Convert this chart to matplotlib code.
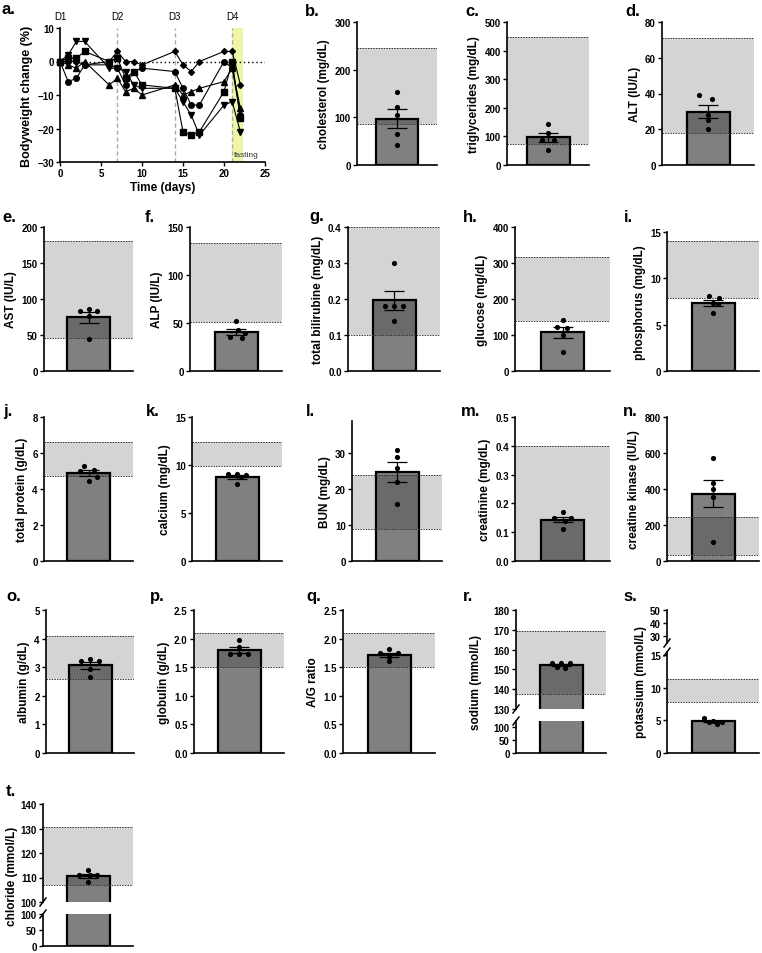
import numpy as np
import matplotlib
matplotlib.use("Agg")
import matplotlib.pyplot as plt

plt.rcParams['font.family'] = ['Liberation Sans', 'DejaVu Sans']

W, H = 762, 954

# bodyweight change (%) per mouse
days = [0, 1, 2, 3, 6, 7, 8, 9, 10, 14, 15, 16, 17, 20, 21, 22]
mouseCircle = [0, -6, -5, -1, -1, -2, -7, -3, -2, -3, -8, -13, -13, 0, -2, -16]
mouseSquare = [0, 1, 1, 3, 0, 1, -5, -3, -7, -8, -21, -22, -21, -9, 0, -17]
mouseUp = [0, -1, -2, 0, -7, -5, -9, -8, -10, -7, -10, -9, -8, -6, -2, -14]
mouseDown = [0, 2, 6, 6, -2, -2, -3, -7, -8, -8, -12, -16, -22, -13, -12, -21]
mouseDiamond = [0, 0, 0, -1, 0, 3, 0, 0, -1, 3, -1, -3, 0, 3, 3, -7]
doseDays = [0, 7, 14, 21]
doseLabels = ['D1', 'D2', 'D3', 'D4']
fastingDays = (21, 22.3)

# blood chemistry, one value per mouse, and reference range
cholesterol = [153, 122, 105, 64, 42]
cholesterolRef = (85, 245)
triglycerides = [143, 112, 88, 86, 52]
triglyceridesRef = (75, 449)
alt = [39, 37, 28, 25, 20]
altRef = (18, 71)
ast = [84, 86, 83, 76, 45]
astRef = (46, 181)
alp = [52, 43, 40, 35, 34]
alpRef = (51, 133)
bilirubine = [0.30, 0.18, 0.18, 0.18, 0.14]
bilirubineRef = (0.1, 0.4)
glucose = [142, 121, 119, 100, 53]
glucoseRef = (138, 318)
phosphorus = [8.1, 7.9, 7.3, 7.2, 6.3]
phosphorusRef = (7.9, 14.0)
protein = [5.3, 5.07, 5.0, 4.65, 4.45]
proteinRef = (4.7, 6.6)
calcium = [9.1, 9.1, 9.0, 8.7, 8.0]
calciumRef = (9.9, 12.4)
bun = [31, 29, 26, 22, 16]
bunRef = (9, 24)
creatinine = [0.17, 0.15, 0.15, 0.14, 0.11]
creatinineRef = (0.0, 0.4)
kinase = [570, 435, 400, 357, 108]
kinaseRef = (35, 245)
albumin = [3.3, 3.22, 3.2, 2.95, 2.65]
albuminRef = (2.6, 4.1)
globulin = [1.98, 1.86, 1.73, 1.73, 1.73]
globulinRef = (1.5, 2.1)
agRatio = [1.82, 1.75, 1.74, 1.67, 1.6]
agRatioRef = (1.5, 2.1)
sodium = [153, 153, 153, 151, 150.5]
sodiumRef = (137.6, 169.2)
potassium = [5.3, 4.9, 4.8, 4.7, 4.5]
potassiumRef = (7.9, 11.4)
chloride = [113, 111, 111, 111, 108]
chlorideRef = (106.8, 130.8)

fig = plt.figure(figsize=(W / 100, H / 100), dpi=100)

TICK = 7
LABEL = 8.5


def box(left, top, width, height):
    return [left / W, 1 - (top + height) / H, width / W, height / H]


def styleAxis(ax, bottom=True):
    ax.spines['top'].set_visible(False)
    ax.spines['right'].set_visible(False)
    ax.spines['left'].set_linewidth(1.2)
    ax.spines['bottom'].set_linewidth(1.2)
    if not bottom:
        ax.spines['bottom'].set_visible(False)
    ax.tick_params(axis='both', length=3, width=1, labelsize=TICK, pad=1.5)
    for lab in ax.get_yticklabels() + ax.get_xticklabels():
        lab.set_fontweight('bold')


def letter(x, y, s):
    fig.text(x / W, 1 - y / H, s, fontsize=12, fontweight='bold', va='center', ha='left')


def drawBar(ax, values, ref, widthPx, offsets, showPoints=True, showRef=True):
    mean = np.mean(values)
    sem = np.std(values, ddof=1) / np.sqrt(len(values))
    ax.bar(0, mean, width=1, color='#808080', edgecolor='black', linewidth=1.6, zorder=1)
    if showRef:
        ax.axhspan(ref[0], ref[1], color='black', alpha=0.17, lw=0, zorder=2)
        for r in ref:
            ax.axhline(r, color='#333333', ls=(0, (1.5, 1.2)), lw=0.7, zorder=2)
    if showPoints:
        ax.errorbar(0, mean, yerr=sem, color='black', capsize=7, lw=0.9, capthick=0.9, zorder=3)
        ax.scatter(offsets, values, s=14, color='black', zorder=4, linewidths=0, clip_on=False)
    half = widthPx / 86
    ax.set_xlim(-half, half)
    ax.set_xticks([])


def breakMark(ax, y, wpx, hpx):
    dx, dy = 3 / wpx, 4 / hpx
    ax.plot([-dx, dx], [y - dy, y + dy], transform=ax.transAxes, color='black', lw=1.1, clip_on=False)


# panel a: bodyweight
ax = fig.add_axes(box(60, 29, 205, 134))
ax.axvspan(fastingDays[0], fastingDays[1], color='#eef5a4', lw=0, zorder=0)
for d in doseDays[1:]:
    ax.axvline(d, color='#aaaaaa', ls=(0, (3, 2)), lw=1, zorder=1)
ax.axhline(0, color='black', ls=(0, (1, 2)), lw=1, zorder=1)
for series, m in [(mouseCircle, 'o'), (mouseSquare, 's'), (mouseUp, '^'),
                  (mouseDown, 'v'), (mouseDiamond, 'D')]:
    ax.plot(days, series, color='black', lw=0.8, marker=m,
            markersize=3 if m == 'D' else 4, zorder=3, clip_on=False)
for d, s in zip(doseDays, doseLabels):
    ax.text(d, 13.6, s, fontsize=7, ha='center', va='center')
ax.text(21.2, -27.8, 'fasting', fontsize=6, color='#333333', va='center')
ax.set_xlim(0, 25)
ax.set_ylim(-30, 10)
ax.set_xticks(range(0, 26, 5))
ax.set_yticks(range(-30, 11, 10))
ax.set_xlabel('Time (days)', fontsize=LABEL, fontweight='bold', labelpad=2)
ax.set_ylabel('Bodyweight change (%)', fontsize=LABEL + 0.5, fontweight='bold', labelpad=3)
styleAxis(ax)
letter(2, 10, 'a.')

# simple bar panels: box, data, range, ylim, ticks, label, letter, letter pos, dot x offsets
panels = [
    ((357, 23, 80, 143), cholesterol, cholesterolRef, (0, 300), np.arange(0, 301, 100), 'cholesterol (mg/dL)', 'b.', (305, 11), [0, 0, 0, 0, 0]),
    ((507, 23, 82, 143), triglycerides, triglyceridesRef, (0, 500), np.arange(0, 501, 100), 'triglycerides (mg/dL)', 'c.', (465, 11), [0, 0, -0.15, 0.15, 0]),
    ((662, 23, 92, 143), alt, altRef, (0, 80), np.arange(0, 81, 20), 'ALT (IU/L)', 'd.', (625, 11), [-0.2, 0.1, 0, 0, 0]),
    ((44, 228, 89, 144), ast, astRef, (0, 200), np.arange(0, 201, 50), 'AST (IU/L)', 'e.', (2, 217), [-0.2, 0, 0.2, 0, 0]),
    ((190, 228, 92, 144), alp, alpRef, (0, 150), np.arange(0, 151, 50), 'ALP (IU/L)', 'f.', (145, 217), [0, 0.05, 0.2, -0.15, 0.15]),
    ((348, 228, 92, 144), bilirubine, bilirubineRef, (0, 0.4), np.arange(0, 0.41, 0.1), 'total bilirubine (mg/dL)', 'g.', (309, 217), [0, -0.2, 0, 0.2, 0]),
    ((515, 228, 95, 144), glucose, glucoseRef, (0, 400), np.arange(0, 401, 100), 'glucose (mg/dL)', 'h.', (463, 217), [0, -0.12, 0.1, 0.02, 0]),
    ((667, 233, 92, 139), phosphorus, phosphorusRef, (0, 15), np.arange(0, 16, 5), 'phosphorus (mg/dL)', 'i.', (624, 217), [-0.1, 0.15, 0, 0.12, 0]),
    ((44, 418, 89, 144), protein, proteinRef, (0, 8), np.arange(0, 9, 2), 'total protein (g/dL)', 'j.', (3, 412), [-0.1, 0.12, -0.2, 0.2, 0]),
    ((192, 418, 90, 144), calcium, calciumRef, (0, 15), np.arange(0, 16, 5), 'calcium (mg/dL)', 'k.', (146, 412), [-0.2, 0, 0.2, 0.1, 0]),
    ((352, 422, 90, 140), bun, bunRef, (0, 39), np.arange(0, 31, 10), 'BUN (mg/dL)', 'l.', (306, 412), [0, 0, 0, 0, 0]),
    ((515, 418, 95, 144), creatinine, creatinineRef, (0, 0.5), np.arange(0, 0.51, 0.1), 'creatinine (mg/dL)', 'm.', (461, 412), [0, -0.2, 0.2, 0.05, 0]),
    ((667, 418, 92, 144), kinase, kinaseRef, (0, 800), np.arange(0, 801, 200), 'creatine kinase (IU/L)', 'n.', (623, 412), [0, 0, 0, 0, 0]),
    ((46, 611, 88, 143), albumin, albuminRef, (0, 5), np.arange(0, 6, 1), 'albumin (g/dL)', 'o.', (6, 597), [0, -0.2, 0.2, 0, 0]),
    ((194, 611, 90, 143), globulin, globulinRef, (0, 2.5), np.arange(0, 2.51, 0.5), 'globulin (g/dL)', 'p.', (150, 597), [0, 0, -0.2, 0, 0.2]),
    ((343, 611, 92, 143), agRatio, agRatioRef, (0, 2.5), np.arange(0, 2.51, 0.5), 'A/G ratio', 'q.', (306, 597), [0, -0.2, 0.2, 0, 0]),
]

for rect, values, ref, ylim, ticks, label, let, pos, offsets in panels:
    ax = fig.add_axes(box(*rect))
    drawBar(ax, values, ref, rect[2], offsets)
    ax.set_ylim(*ylim)
    ax.set_yticks(ticks)
    ax.set_ylabel(label, fontsize=LABEL, fontweight='bold', labelpad=3)
    styleAxis(ax)
    letter(pos[0], pos[1], let)

# broken axes panels: r, s, t
brokenPanels = [
    ((516, 90), [(611, 99, (130, 180), np.arange(130, 181, 10), True),
                 (722, 32, (0, 125), [0, 50, 100], False)],
     sodium, sodiumRef, 'sodium (mmol/L)', 476, 'r.', (463, 597), [-0.22, 0, 0.22, -0.1, 0.1]),
    ((667, 92), [(611, 33, (25, 50), [30, 40, 50], None),
                 (653, 101, (0, 15.5), np.arange(0, 16, 5), True)],
     potassium, potassiumRef, 'potassium (mmol/L)', 641, 's.', (623, 597), [-0.2, 0, 0.2, -0.1, 0.1]),
    ((43, 90), [(805, 98, (100, 140), np.arange(100, 141, 10), True),
                (915, 32, (0, 100), [0, 50, 100], False)],
     chloride, chlorideRef, 'chloride (mmol/L)', 12, 't.', (6, 792), [0, -0.2, 0.05, 0.2, 0]),
]

for (left, width), segs, values, ref, label, labelX, let, pos, offsets in brokenPanels:
    for i, (top, height, ylim, ticks, main) in enumerate(segs):
        ax = fig.add_axes(box(left, top, width, height))
        if main is None:
            ax.set_xlim(-width / 86, width / 86)
            ax.set_xticks([])
        else:
            drawBar(ax, values, ref, width, offsets, showPoints=main, showRef=main)
        ax.set_ylim(*ylim)
        ax.set_yticks(ticks)
        last = i == len(segs) - 1
        styleAxis(ax, bottom=last)
        if not last:
            breakMark(ax, 0, width, height)
        if i > 0:
            breakMark(ax, 1, width, height)
    segTop = segs[0][0]
    segBottom = segs[-1][0] + segs[-1][1]
    fig.text(labelX / W, 1 - (segTop + segBottom) / 2 / H, label, rotation=90,
             fontsize=LABEL, fontweight='bold', ha='center', va='center')
    letter(pos[0], pos[1], let)

fig.savefig('out.png', dpi=100, facecolor='white')
